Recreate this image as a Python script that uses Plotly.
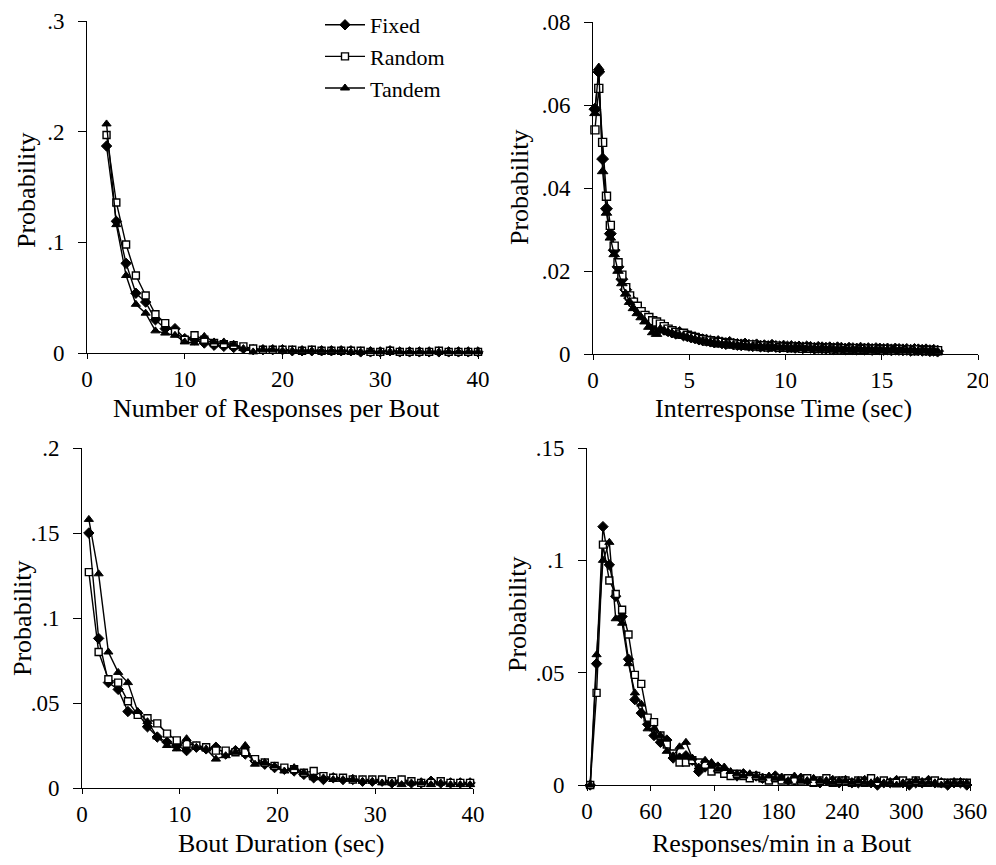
import plotly.graph_objects as go

# ---------------- data ----------------
series_names = ["Fixed", "Random", "Tandem"]

# Panel A: Number of responses per bout
resp_x = list(range(2, 41))
resp_fixed = [0.187, 0.119, 0.081, 0.054, 0.046, 0.030, 0.022, 0.022, 0.013, 0.012,
              0.009, 0.007, 0.006, 0.005, 0.004, 0.003, 0.003, 0.003, 0.003, 0.002,
              0.002, 0.002, 0.002, 0.002, 0.002, 0.002, 0.001, 0.001, 0.001, 0.002,
              0.001, 0.001, 0.001, 0.001, 0.001, 0.001, 0.001, 0.001, 0.001]
resp_random = [0.197, 0.136, 0.098, 0.070, 0.052, 0.035, 0.027, 0.019, 0.012, 0.016,
               0.012, 0.009, 0.008, 0.007, 0.006, 0.004, 0.003, 0.003, 0.003, 0.003,
               0.002, 0.003, 0.002, 0.002, 0.002, 0.002, 0.002, 0.001, 0.001, 0.002,
               0.001, 0.001, 0.001, 0.001, 0.002, 0.001, 0.001, 0.001, 0.001]
resp_tandem = [0.207, 0.116, 0.070, 0.044, 0.036, 0.020, 0.018, 0.016, 0.010, 0.009,
               0.015, 0.010, 0.010, 0.008, 0.004, 0.001, 0.003, 0.003, 0.002, 0.002,
               0.002, 0.002, 0.002, 0.002, 0.002, 0.001, 0.001, 0.002, 0.001, 0.001,
               0.001, 0.001, 0.001, 0.001, 0.001, 0.001, 0.001, 0.001, 0.001]

# Panel B: Interresponse time (sec), bins 0.1, 0.3, ..., 17.9
irt_x = [round(0.1 + 0.2 * i, 1) for i in range(90)]
irt_fixed = [0.059, 0.068, 0.047, 0.035, 0.029, 0.025, 0.021, 0.018, 0.0155, 0.0135,
             0.012, 0.0108, 0.0098, 0.0088, 0.0082, 0.0075, 0.0068, 0.0064, 0.006, 0.0056,
             0.0053, 0.005, 0.0052, 0.0046, 0.0044, 0.0041, 0.0039, 0.0036, 0.0034, 0.0033,
             0.0031, 0.0029, 0.0030, 0.0027, 0.0025, 0.0028, 0.0024, 0.0023, 0.0022, 0.0024,
             0.0021, 0.0020, 0.0022, 0.0019, 0.0020, 0.0018, 0.0021, 0.0018, 0.0017, 0.0019,
             0.0017, 0.0018, 0.0016, 0.0017, 0.0015, 0.0017, 0.0016, 0.0014, 0.0016, 0.0015,
             0.0014, 0.0015, 0.0013, 0.0015, 0.0014, 0.0012, 0.0014, 0.0013, 0.0012, 0.0014,
             0.0012, 0.0013, 0.0011, 0.0013, 0.0012, 0.0011, 0.0012, 0.0010, 0.0012, 0.0011,
             0.0010, 0.0011, 0.0009, 0.0011, 0.0010, 0.0009, 0.0010, 0.0008, 0.0009, 0.0007]
irt_random = [0.054, 0.064, 0.051, 0.038, 0.031, 0.026, 0.022, 0.019, 0.016, 0.014,
              0.0125, 0.0115, 0.0102, 0.0093, 0.0088, 0.0080, 0.0077, 0.0072, 0.0066, 0.0060,
              0.0056, 0.0052, 0.0048, 0.0050, 0.0045, 0.0042, 0.0040, 0.0037, 0.0035, 0.0031,
              0.0032, 0.0029, 0.0027, 0.0028, 0.0026, 0.0024, 0.0025, 0.0022, 0.0023, 0.0021,
              0.0020, 0.0022, 0.0019, 0.0018, 0.0020, 0.0017, 0.0018, 0.0019, 0.0016, 0.0017,
              0.0016, 0.0015, 0.0017, 0.0015, 0.0014, 0.0016, 0.0014, 0.0015, 0.0013, 0.0014,
              0.0013, 0.0014, 0.0012, 0.0013, 0.0012, 0.0013, 0.0011, 0.0012, 0.0013, 0.0011,
              0.0011, 0.0012, 0.0010, 0.0012, 0.0011, 0.0010, 0.0011, 0.0010, 0.0009, 0.0011,
              0.0010, 0.0009, 0.0010, 0.0008, 0.0010, 0.0009, 0.0008, 0.0009, 0.0007, 0.0008]
irt_tandem = [0.058, 0.069, 0.044, 0.034, 0.028, 0.024, 0.020, 0.017, 0.0145, 0.0125,
              0.011, 0.0098, 0.0088, 0.0078, 0.0065, 0.0052, 0.0048, 0.0060, 0.0056, 0.0052,
              0.0050, 0.0047, 0.0045, 0.0043, 0.0040, 0.0038, 0.0035, 0.0033, 0.0031, 0.0029,
              0.0028, 0.0026, 0.0025, 0.0023, 0.0024, 0.0022, 0.0021, 0.0020, 0.0021, 0.0019,
              0.0018, 0.0019, 0.0017, 0.0018, 0.0016, 0.0017, 0.0018, 0.0016, 0.0015, 0.0016,
              0.0015, 0.0014, 0.0016, 0.0014, 0.0015, 0.0013, 0.0014, 0.0013, 0.0012, 0.0014,
              0.0012, 0.0013, 0.0011, 0.0012, 0.0011, 0.0012, 0.0010, 0.0011, 0.0012, 0.0010,
              0.0010, 0.0011, 0.0009, 0.0011, 0.0010, 0.0009, 0.0010, 0.0008, 0.0010, 0.0009,
              0.0009, 0.0008, 0.0009, 0.0008, 0.0007, 0.0009, 0.0008, 0.0007, 0.0008, 0.0006]

# Panel C: Bout duration (sec)
bd_x = [round(0.7 + i, 1) for i in range(40)]
bd_fixed = [0.150, 0.088, 0.062, 0.058, 0.045, 0.044, 0.036, 0.030, 0.027, 0.025,
            0.022, 0.024, 0.023, 0.024, 0.020, 0.022, 0.020, 0.016, 0.014, 0.012,
            0.011, 0.010, 0.008, 0.006, 0.005, 0.006, 0.005, 0.005, 0.004, 0.004,
            0.004, 0.003, 0.004, 0.003, 0.003, 0.004, 0.003, 0.003, 0.003, 0.003]
bd_random = [0.127, 0.080, 0.064, 0.062, 0.051, 0.043, 0.041, 0.038, 0.032, 0.028,
             0.026, 0.025, 0.024, 0.022, 0.022, 0.021, 0.021, 0.017, 0.015, 0.013,
             0.012, 0.011, 0.009, 0.010, 0.007, 0.006, 0.006, 0.005, 0.005, 0.005,
             0.005, 0.004, 0.005, 0.004, 0.003, 0.003, 0.004, 0.003, 0.003, 0.003]
bd_tandem = [0.158, 0.126, 0.080, 0.068, 0.062, 0.045, 0.039, 0.030, 0.025, 0.023,
             0.029, 0.024, 0.023, 0.017, 0.019, 0.021, 0.025, 0.014, 0.015, 0.013,
             0.010, 0.012, 0.009, 0.006, 0.006, 0.005, 0.005, 0.005, 0.004, 0.004,
             0.003, 0.003, 0.002, 0.003, 0.003, 0.002, 0.003, 0.002, 0.002, 0.002]

# Panel D: Responses/min in a bout
rr_x = [3 + 6 * i for i in range(60)]
rr_fixed = [0.000, 0.054, 0.115, 0.098, 0.084, 0.075, 0.056, 0.038, 0.032, 0.027,
            0.022, 0.019, 0.020, 0.012, 0.012, 0.013, 0.011, 0.006, 0.008, 0.009,
            0.008, 0.006, 0.005, 0.004, 0.005, 0.004, 0.004, 0.003, 0.003, 0.004,
            0.003, 0.002, 0.002, 0.003, 0.002, 0.002, 0.001, 0.002, 0.002, 0.001,
            0.002, 0.001, 0.001, 0.002, 0.001, 0.000, 0.001, 0.001, 0.002, 0.001,
            0.000, 0.001, 0.001, 0.002, 0.001, 0.001, 0.000, 0.001, 0.001, 0.000]
rr_random = [0.000, 0.041, 0.107, 0.091, 0.085, 0.078, 0.067, 0.049, 0.045, 0.030,
             0.028, 0.022, 0.018, 0.014, 0.010, 0.010, 0.011, 0.010, 0.009, 0.006,
             0.007, 0.005, 0.004, 0.005, 0.004, 0.003, 0.004, 0.003, 0.002, 0.003,
             0.002, 0.003, 0.002, 0.002, 0.003, 0.001, 0.002, 0.003, 0.001, 0.002,
             0.002, 0.001, 0.002, 0.001, 0.003, 0.001, 0.002, 0.001, 0.001, 0.002,
             0.001, 0.002, 0.001, 0.001, 0.002, 0.001, 0.001, 0.001, 0.001, 0.001]
rr_tandem = [0.000, 0.058, 0.100, 0.108, 0.074, 0.072, 0.054, 0.041, 0.036, 0.025,
             0.025, 0.022, 0.015, 0.013, 0.017, 0.019, 0.012, 0.008, 0.011, 0.010,
             0.007, 0.008, 0.006, 0.005, 0.004, 0.005, 0.004, 0.003, 0.004, 0.003,
             0.003, 0.002, 0.004, 0.002, 0.002, 0.003, 0.002, 0.002, 0.001, 0.002,
             0.002, 0.001, 0.002, 0.001, 0.001, 0.002, 0.001, 0.001, 0.000, 0.001,
             0.001, 0.002, 0.001, 0.001, 0.001, 0.000, 0.001, 0.001, 0.001, 0.001]

# tick labels
p1_yticks = [0, 0.1, 0.2, 0.3];            p1_ylabels = ["0", ".1", ".2", ".3"]
p2_yticks = [0, 0.02, 0.04, 0.06, 0.08];   p2_ylabels = ["0", ".02", ".04", ".06", ".08"]
p3_yticks = [0, 0.05, 0.1, 0.15, 0.2];     p3_ylabels = ["0", ".05", ".1", ".15", ".2"]
p4_yticks = [0, 0.05, 0.1, 0.15];          p4_ylabels = ["0", ".05", ".1", ".15"]
p1_xticks = [0, 10, 20, 30, 40]
p2_xticks = [0, 5, 10, 15, 20]
p3_xticks = [0, 10, 20, 30, 40]
p4_xticks = [0, 60, 120, 180, 240, 300, 360]

x_titles = ["Number of Responses per Bout", "Interresponse Time (sec)",
            "Bout Duration (sec)", "Responses/min in a Bout"]
y_title = "Probability"

# ---------------- layout helpers ----------------
OFF = 8                      # page body margin in the browser
W, H = 996 - OFF, 865 - OFF  # figure size so that it fits the window
FONT = "Liberation Serif, Times New Roman, serif"


def px(x):
    return (x - OFF) / W


def py(y):
    return 1 - (y - OFF) / H


# pixel boxes in window coordinates: (left, right, bottom, top)
boxes = [(87, 478, 353, 21), (593, 978, 354, 22), (82, 473, 788, 448), (587, 970, 785, 448)]
xranges = [[0, 40], [0, 20], [0, 40], [0, 360]]
yranges = [[0, 0.3], [0, 0.08], [0, 0.2], [0, 0.15]]
xticks = [p1_xticks, p2_xticks, p3_xticks, p4_xticks]
yticks = [(p1_yticks, p1_ylabels), (p2_yticks, p2_ylabels),
          (p3_yticks, p3_ylabels), (p4_yticks, p4_ylabels)]

panel_data = [
    (resp_x, [resp_fixed, resp_random, resp_tandem]),
    (irt_x, [irt_fixed, irt_random, irt_tandem]),
    (bd_x, [bd_fixed, bd_random, bd_tandem]),
    (rr_x, [rr_fixed, rr_random, rr_tandem]),
]
size_scale = [1.0, 1.15, 1.0, 1.0]

styles = {
    "Fixed": dict(symbol="diamond", color="black", lw=1, size=8),
    "Random": dict(symbol="square", color="white", lw=1.4, size=7),
    "Tandem": dict(symbol="triangle-up", color="black", lw=1, size=8),
}

fig = go.Figure()

for k, (xs, ys_list) in enumerate(panel_data):
    xa = "x" if k == 0 else f"x{k+1}"
    ya = "y" if k == 0 else f"y{k+1}"
    for name, ys in zip(series_names, ys_list):
        st = styles[name]
        fig.add_trace(go.Scatter(
            x=xs, y=ys, name=name, mode="lines+markers",
            xaxis=xa, yaxis=ya,
            line=dict(color="black", width=1.4),
            marker=dict(symbol=st["symbol"], color=st["color"],
                        size=st["size"] * size_scale[k],
                        line=dict(color="black", width=st["lw"])),
            showlegend=(k == 0), cliponaxis=False,
        ))

layout = dict(
    width=W, height=H, margin=dict(l=0, r=0, t=0, b=0, autoexpand=False),
    paper_bgcolor="white", plot_bgcolor="white",
    font=dict(family=FONT, size=24, color="black"),
    showlegend=True,
    legend=dict(x=px(320), y=py(4), xanchor="left", yanchor="top",
                bgcolor="rgba(0,0,0,0)", font=dict(family=FONT, size=22),
                tracegroupgap=0, itemwidth=40),
)

annotations = []
for k in range(4):
    l, r, b, t = boxes[k]
    xkey = "xaxis" if k == 0 else f"xaxis{k+1}"
    ykey = "yaxis" if k == 0 else f"yaxis{k+1}"
    yname = "y" if k == 0 else f"y{k+1}"
    xname = "x" if k == 0 else f"x{k+1}"
    layout[xkey] = dict(
        domain=[px(l), px(r)], range=xranges[k], anchor=yname, automargin=False,
        showline=True, linecolor="black", linewidth=1,
        showgrid=False, zeroline=False,
        ticks="outside", ticklen=5, tickwidth=1, tickcolor="black",
        tickvals=xticks[k], ticktext=[str(v) for v in xticks[k]],
        tickfont=dict(family=FONT, size=23), ticklabelstandoff=0,
        ticklabeloverflow="allow",
    )
    layout[ykey] = dict(
        domain=[py(b), py(t)], range=yranges[k], anchor=xname, automargin=False,
        showline=True, linecolor="black", linewidth=1,
        showgrid=False, zeroline=False,
        ticks="outside", ticklen=8, tickwidth=1, tickcolor="black",
        tickvals=yticks[k][0], ticktext=yticks[k][1],
        tickfont=dict(family=FONT, size=23), ticklabelstandoff=9,
        ticklabeloverflow="allow",
    )

# axis titles as text annotations (window pixel positions)
xt_pos = [(276, 408), (783, 408), (281, 843), (782, 843)]
yt_pos = [(26, 190), (519, 187), (22, 618), (517, 614)]
for k in range(4):
    annotations.append(dict(text=x_titles[k], x=px(xt_pos[k][0]), y=py(xt_pos[k][1]),
                            xref="paper", yref="paper", showarrow=False,
                            xanchor="center", yanchor="middle",
                            font=dict(family=FONT, size=26, color="black")))
    annotations.append(dict(text=y_title, x=px(yt_pos[k][0]), y=py(yt_pos[k][1]),
                            xref="paper", yref="paper", showarrow=False, textangle=-90,
                            xanchor="center", yanchor="middle",
                            font=dict(family=FONT, size=26, color="black")))
layout["annotations"] = annotations

fig.update_layout(**layout)
fig.write_html("out.html")
